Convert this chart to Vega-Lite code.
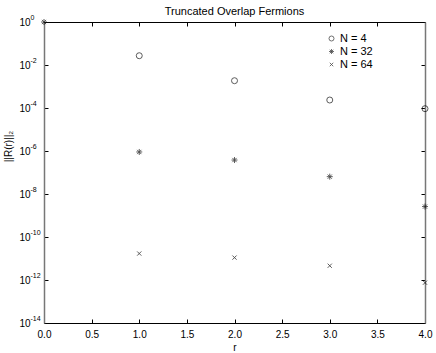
{
  "$schema": "https://vega.github.io/schema/vega-lite/v6.json",
  "width": 381,
  "height": 301,
  "autosize": {"type": "none"},
  "padding": {"left": 44, "top": 22, "right": 11, "bottom": 30},
  "background": "white",
  "title": {"text": "Truncated Overlap Fermions", "fontSize": 11, "font": "Liberation Sans", "fontWeight": "normal", "color": "black", "offset": -4},
  "config": {
    "view": {"stroke": null},
    "axis": {"labelFont": "Liberation Sans", "titleFont": "Liberation Sans", "labelFontSize": 10, "titleFontSize": 10, "labelColor": "black", "titleColor": "black", "domainColor": "black", "tickColor": "black", "grid": false, "titleFontWeight": "normal"}
  },
  "data": {"values": [
    {"r": 0, "v": 1, "N": "N = 32"},
    {"r": 1, "v": 0.027, "N": "N = 4"},
    {"r": 2, "v": 0.00186, "N": "N = 4"},
    {"r": 3, "v": 0.000235, "N": "N = 4"},
    {"r": 4, "v": 0.000093, "N": "N = 4"},
    {"r": 1, "v": 9e-7, "N": "N = 32"},
    {"r": 2, "v": 3.8e-7, "N": "N = 32"},
    {"r": 3, "v": 6.4e-8, "N": "N = 32"},
    {"r": 4, "v": 2.6e-9, "N": "N = 32"},
    {"r": 1, "v": 1.7e-11, "N": "N = 64"},
    {"r": 2, "v": 1.1e-11, "N": "N = 64"},
    {"r": 3, "v": 4.6e-12, "N": "N = 64"},
    {"r": 4, "v": 7.5e-13, "N": "N = 64"}
  ]},
  "layer": [
    {
      "mark": {"type": "point", "filled": false, "stroke": "black", "strokeWidth": 0.9, "clip": false},
      "encoding": {
        "x": {"field": "r", "type": "quantitative", "scale": {"domain": [0, 4], "nice": false, "zero": false},
          "axis": {"values": [0, 0.5, 1, 1.5, 2, 2.5, 3, 3.5, 4], "title": "r", "tickSize": -4, "labelPadding": 10, "titlePadding": 3, "labelFlush": false}},
        "y": {"field": "v", "type": "quantitative", "scale": {"type": "log", "domain": [1e-14, 1], "nice": false},
          "axis": {"values": [1, 0.01, 0.0001, 1e-6, 1e-8, 1e-10, 1e-12, 1e-14], "title": "||R(r)||₂", "titleX": -36, "titleY": 124, "titleAngle": -90, "titleAlign": "center", "titleBaseline": "middle", "tickSize": -4, "labelPadding": 18, "domainColor": "#777", "domainWidth": 1.5,
            "labelExpr": "'10'"}},
        "shape": {"field": "N", "type": "nominal",
          "scale": {"domain": ["N = 4", "N = 32", "N = 64"], "range": ["circle", "M-1,0L1,0M0,-1L0,1M-0.7,-0.7L0.7,0.7M-0.7,0.7L0.7,-0.7", "M-0.7,-0.7L0.7,0.7M-0.7,0.7L0.7,-0.7"]},
          "legend": {"title": null, "orient": "none", "legendX": 282, "legendY": 11, "labelFont": "Liberation Sans", "labelFontSize": 11, "labelColor": "black", "symbolSize": 25, "symbolStrokeColor": "black", "symbolStrokeWidth": 0.8, "symbolFillColor": "transparent", "rowPadding": 1, "padding": 0, "labelOffset": 3}},
        "size": {"value": 36}
      }
    },
    {
      "mark": {"type": "point", "opacity": 0},
      "encoding": {
        "x": {"field": "r", "type": "quantitative", "axis": {"orient": "top", "values": [0, 0.5, 1, 1.5, 2, 2.5, 3, 3.5, 4], "labels": false, "title": null, "tickSize": -4}},
        "y": {"field": "v", "type": "quantitative", "axis": {"orient": "right", "values": [1, 0.01, 0.0001, 1e-6, 1e-8, 1e-10, 1e-12, 1e-14], "labels": false, "title": null, "tickSize": -4, "domainColor": "#777", "domainWidth": 1.5}}
      }
    },
    {
      "mark": {"type": "point", "opacity": 0},
      "encoding": {
        "y": {"field": "v", "type": "quantitative", "axis": {"orient": "left", "values": [1, 0.01, 0.0001, 1e-6, 1e-8, 1e-10, 1e-12, 1e-14], "domain": false, "ticks": false, "title": null, "labelAlign": "left", "labelPadding": 14, "labelOffset": -5, "labelFontSize": 7,
          "labelExpr": "'' + round(log(datum.value)/LN10)"}}
      }
    }
  ],
  "resolve": {"axis": {"x": "independent", "y": "independent"}}
}
